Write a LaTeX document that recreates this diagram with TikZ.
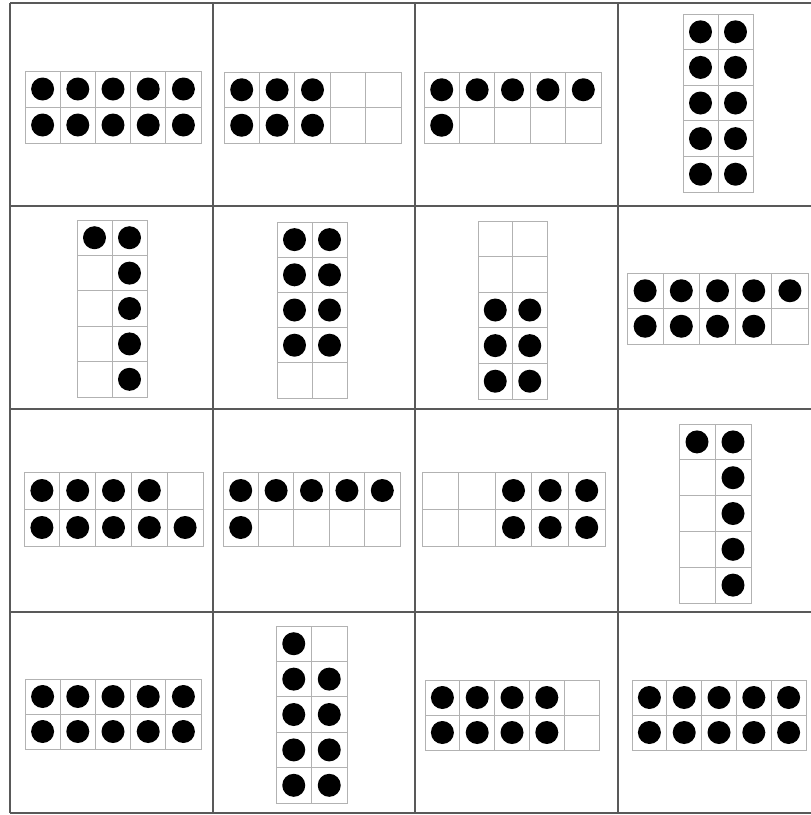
\documentclass[tikz,border=0pt]{standalone}
\usepackage{tikz}
\tikzset{
  gridline/.style={draw=black!65, line width=2pt},
  framecell/.style={draw=black!30, line width=0.9pt},
  dot/.style={fill=black},
}
\newcommand{\tframe}[7]{%
  \pgfmathsetmacro\tfcw{(#3-#1)/#5}%
  \pgfmathsetmacro\tfch{(#4-#2)/#6}%
  \foreach \i in {1,...,#5}{\foreach \j in {1,...,#6}{%
    \draw[framecell] ({#1+(\i-1)*\tfcw},{#2+(\j-1)*\tfch}) rectangle ({#1+\i*\tfcw},{#2+\j*\tfch});}}%
  \foreach \i/\j in {#7}{%
    \fill[dot] ({#1+(\i-0.5)*\tfcw},{#2+(\j-0.5)*\tfch}) circle[radius=11.5pt];}%
}
\begin{document}
\begin{tikzpicture}[x=1pt,y=-1pt]
\fill[white] (0,0) rectangle (811,815);
\useasboundingbox (0,0) rectangle (811,815);
% grid
\foreach \gx in {10,213,415,618}{\draw[gridline] (\gx,3) -- (\gx,813);}
\foreach \gy in {3,206,409,612,813}{\draw[gridline] (10,\gy) -- (812,\gy);}
% row 1
\tframe{25}{71}{201}{143}{5}{2}{1/1,2/1,3/1,4/1,5/1,1/2,2/2,3/2,4/2,5/2}
\tframe{224}{72}{401}{143}{5}{2}{1/1,2/1,3/1,1/2,2/2,3/2}
\tframe{424}{72}{601}{143}{5}{2}{1/1,2/1,3/1,4/1,5/1,1/2}
\tframe{683}{14}{753}{192}{2}{5}{1/1,2/1,1/2,2/2,1/3,2/3,1/4,2/4,1/5,2/5}
% row 2
\tframe{77}{220}{147}{397}{2}{5}{1/1,2/1,2/2,2/3,2/4,2/5}
\tframe{277}{222}{347}{398}{2}{5}{1/1,2/1,1/2,2/2,1/3,2/3,1/4,2/4}
\tframe{478}{221}{547}{399}{2}{5}{1/3,2/3,1/4,2/4,1/5,2/5}
\tframe{627}{273}{808}{344}{5}{2}{1/1,2/1,3/1,4/1,5/1,1/2,2/2,3/2,4/2}
% row 3
\tframe{24}{472}{203}{546}{5}{2}{1/1,2/1,3/1,4/1,1/2,2/2,3/2,4/2,5/2}
\tframe{223}{472}{400}{546}{5}{2}{1/1,2/1,3/1,4/1,5/1,1/2}
\tframe{422}{472}{605}{546}{5}{2}{3/1,4/1,5/1,3/2,4/2,5/2}
\tframe{679}{424}{751}{603}{2}{5}{1/1,2/1,2/2,2/3,2/4,2/5}
% row 4
\tframe{25}{679}{201}{749}{5}{2}{1/1,2/1,3/1,4/1,5/1,1/2,2/2,3/2,4/2,5/2}
\tframe{276}{626}{347}{803}{2}{5}{1/1,1/2,2/2,1/3,2/3,1/4,2/4,1/5,2/5}
\tframe{425}{680}{599}{750}{5}{2}{1/1,2/1,3/1,4/1,1/2,2/2,3/2,4/2}
\tframe{632}{680}{806}{750}{5}{2}{1/1,2/1,3/1,4/1,5/1,1/2,2/2,3/2,4/2,5/2}
\end{tikzpicture}
\end{document}
